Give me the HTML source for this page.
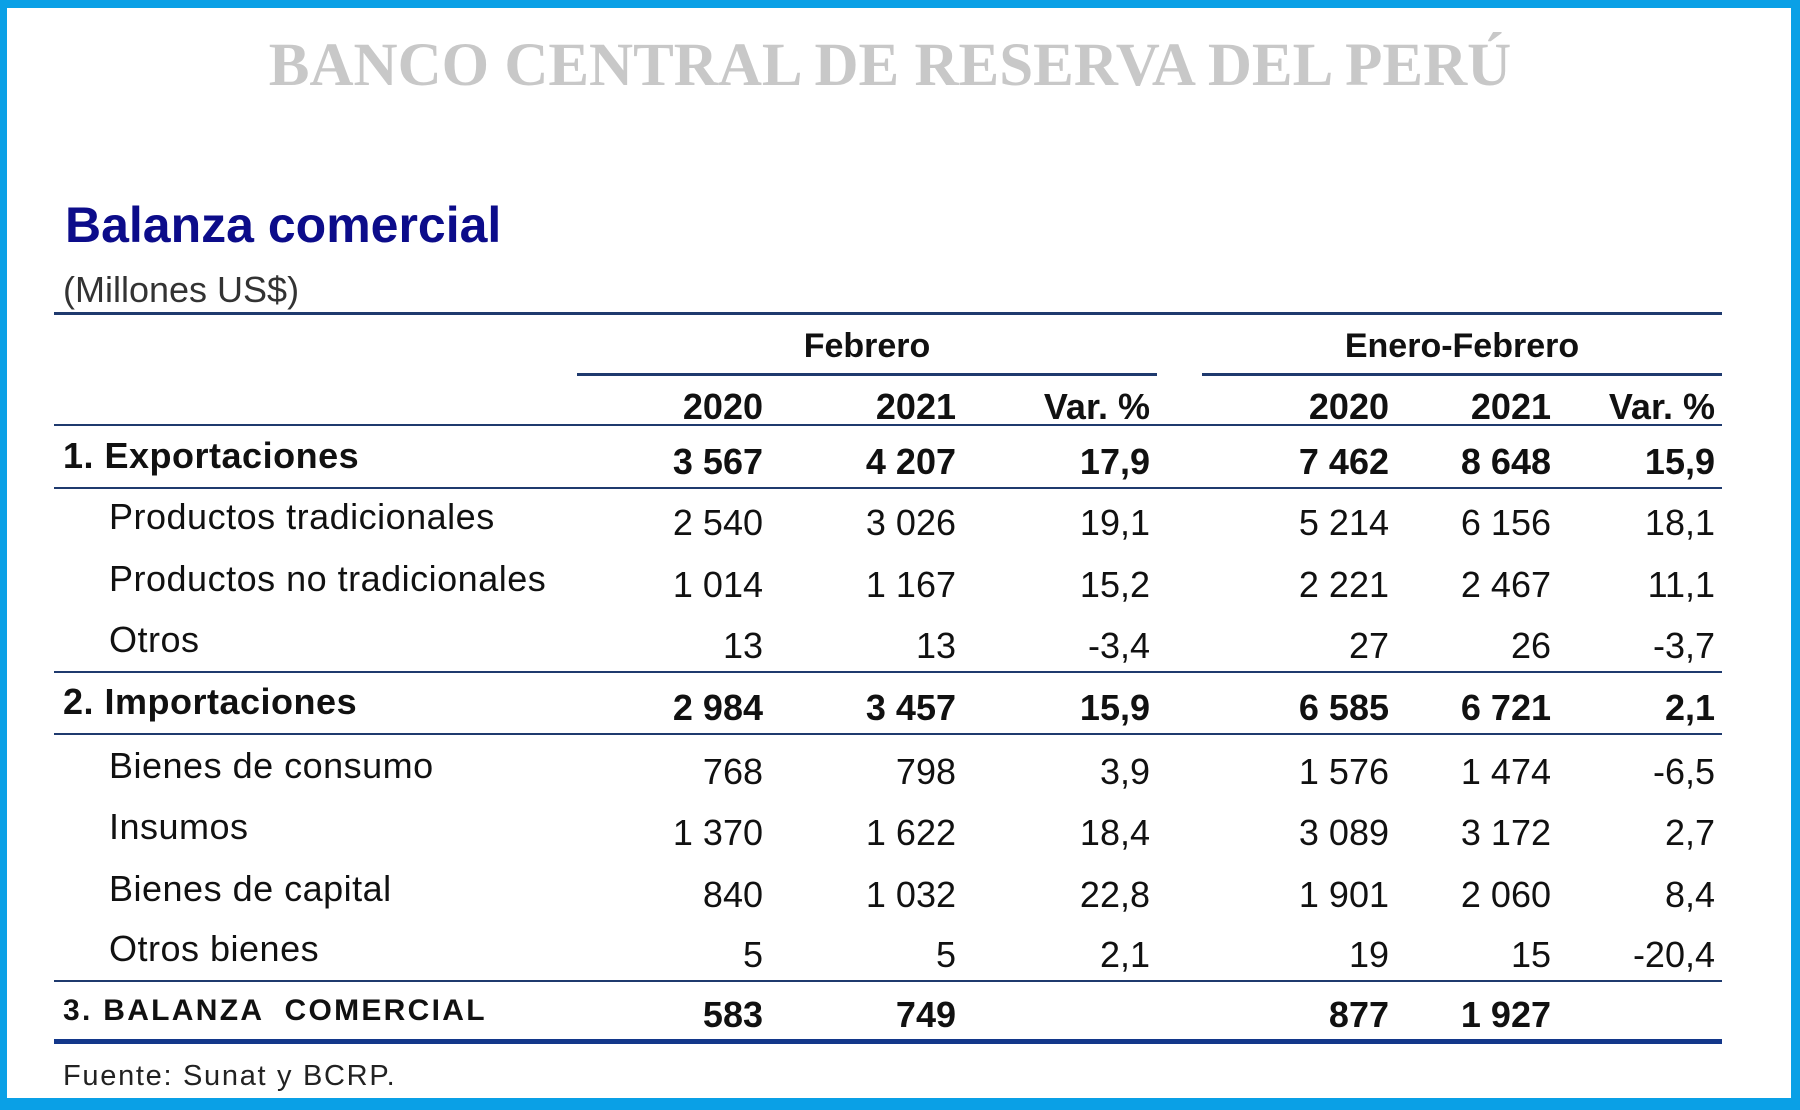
<!DOCTYPE html>
<html><head><meta charset="utf-8"><style>
*{margin:0;padding:0}
body{width:1800px;height:1110px;position:relative;background:#fff;overflow:hidden;font-family:"Liberation Sans",sans-serif}
.frame{position:absolute;left:0;top:0;width:1800px;height:1110px;box-sizing:border-box;border:solid #0aa0e6;border-width:8px 9px 12px 7px}
.t{position:absolute;white-space:nowrap;line-height:1}
.r{position:absolute;white-space:nowrap;line-height:1;text-align:right;transform:translateX(-100%)}
.ln{position:absolute;background:#1f3a6e}
.n{font-size:36px;color:#111}
.b{font-weight:bold}
</style></head><body>
<div class="frame"></div>
<div class="t" style="left:0;width:1780px;text-align:center;top:35px;font-family:'Liberation Serif',serif;font-weight:bold;font-size:61px;color:#c8c8c8">BANCO CENTRAL DE RESERVA DEL PERÚ</div>
<div class="t" style="left:65px;top:200px;font-size:50px;font-weight:bold;color:#0c0c8a">Balanza comercial</div>
<div class="t" style="left:63px;top:272px;font-size:36px;color:#333">(Millones US$)</div>
<div class="ln" style="left:54px;top:312px;width:1668px;height:3px"></div>
<div class="t b" style="left:577px;width:580px;text-align:center;top:329px;font-size:34px;color:#111">Febrero</div>
<div class="t b" style="left:1202px;width:520px;text-align:center;top:329px;font-size:34px;color:#111">Enero-Febrero</div>
<div class="ln" style="left:577px;top:373px;width:580px;height:3px"></div>
<div class="ln" style="left:1202px;top:373px;width:520px;height:3px"></div>
<div class="ln" style="left:54px;top:424px;width:1668px;height:2px"></div>
<div class="ln" style="left:54px;top:487px;width:1668px;height:2px"></div>
<div class="ln" style="left:54px;top:671px;width:1668px;height:2px"></div>
<div class="ln" style="left:54px;top:733px;width:1668px;height:2px"></div>
<div class="ln" style="left:54px;top:980px;width:1668px;height:2px"></div>
<div class="ln" style="left:54px;top:1039px;width:1668px;height:5px;background:#13378a"></div>
<div class="t" style="left:63px;top:1062px;font-size:29px;letter-spacing:1.7px;color:#222">Fuente: Sunat y BCRP.</div>
<div id="c"></div>
<script>
var cols=[763,956,1150,1389,1551,1715];
var rows=[
[416,null,["2020","2021","Var. %","2020","2021","Var. %"],1,0],
[471,"1. Exportaciones",["3 567","4 207","17,9","7 462","8 648","15,9"],1,0],
[532,"Productos tradicionales",["2 540","3 026","19,1","5 214","6 156","18,1"],0,1],
[594,"Productos no tradicionales",["1 014","1 167","15,2","2 221","2 467","11,1"],0,1],
[655,"Otros",["13","13","-3,4","27","26","-3,7"],0,1],
[717,"2. Importaciones",["2 984","3 457","15,9","6 585","6 721","2,1"],1,0],
[781,"Bienes de consumo",["768","798","3,9","1 576","1 474","-6,5"],0,1],
[842,"Insumos",["1 370","1 622","18,4","3 089","3 172","2,7"],0,1],
[904,"Bienes de capital",["840","1 032","22,8","1 901","2 060","8,4"],0,1],
[964,"Otros bienes",["5","5","2,1","19","15","-20,4"],0,1],
[1024,"3. BALANZA  COMERCIAL",["583","749","","877","1 927",""],1,0]
];
var h="";
rows.forEach(function(r){
 var top=r[0]-29;
 if(r[1]){var bal=r[1].indexOf("BALANZA")>=0;var fs=bal?30:36;var ls=bal?2.3:0.5;
  h+='<div class="t n'+(r[3]?' b':'')+'" style="left:'+(r[4]?109:63)+'px;top:'+(top-4+(36-fs)*0.75)+'px;font-size:'+fs+'px;letter-spacing:'+ls+'px;white-space:pre">'+r[1]+'</div>';}
 r[2].forEach(function(v,i){h+='<div class="r n'+(r[3]?' b':'')+'" style="left:'+cols[i]+'px;top:'+(top+2)+'px">'+v+'</div>';});
});
document.getElementById("c").innerHTML=h;
</script>
</body></html>
